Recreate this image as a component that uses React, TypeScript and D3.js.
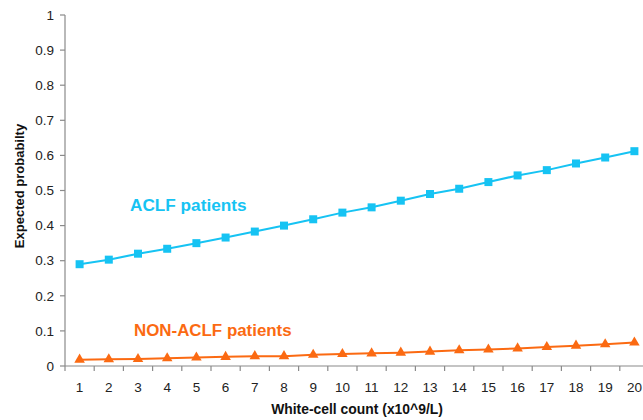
import React from "react";
import * as d3 from "d3";

const categories = ["1","2","3","4","5","6","7","8","9","10","11","12","13","14","15","16","17","18","19","20"];
const aclf = [0.290,0.303,0.320,0.334,0.350,0.366,0.383,0.400,0.418,0.437,0.452,0.471,0.490,0.505,0.524,0.543,0.558,0.577,0.594,0.612];
const nonAclf = [0.018,0.019,0.020,0.022,0.024,0.026,0.028,0.028,0.032,0.034,0.036,0.038,0.041,0.045,0.047,0.050,0.054,0.058,0.062,0.067];
const yTicks = [0,0.1,0.2,0.3,0.4,0.5,0.6,0.7,0.8,0.9,1];
const yTickLabels = ["0","0.1","0.2","0.3","0.4","0.5","0.6","0.7","0.8","0.9","1"];

const W = 643, H = 420;
const CYAN = "#16c3f3";
const ORANGE = "#fb6a12";

export default function App() {
  const x = d3.scaleBand<string>().domain(categories).range([65, 649]).padding(0);
  const y = d3.scaleLinear().domain([0, 1]).range([366, 15]);
  const cx = (c: string) => (x(c) as number) + x.bandwidth() / 2;
  const line = d3.line<number>().x((_, i) => cx(categories[i])).y((d) => y(d));
  const tri = d3.symbol().type(d3.symbolTriangle).size(48)();
  const boundaries = categories.map((c) => x(c) as number).concat([(x(categories[categories.length - 1]) as number) + x.bandwidth()]);
  const font = "Liberation Sans, Arial, sans-serif";
  return (
    <svg width={W} height={H} style={{ position: "absolute", left: 0, top: 0, display: "block", background: "#fff" }} fontFamily={font}>
      {/* y axis */}
      <line x1={65} x2={65} y1={y(1)} y2={y(0)} stroke="#8a8a8a" strokeWidth={1.2} />
      {yTicks.map((t, i) => (
        <g key={t}>
          <line x1={60} x2={65} y1={y(t)} y2={y(t)} stroke="#8a8a8a" strokeWidth={1.2} />
          <text x={54} y={y(t)} dy="0.35em" textAnchor="end" fontSize={13.5} fill="#222">{yTickLabels[i]}</text>
        </g>
      ))}
      {/* x axis */}
      <line x1={65} x2={W} y1={y(0)} y2={y(0)} stroke="#8a8a8a" strokeWidth={1.2} />
      {boundaries.map((b, i) => (
        <line key={i} x1={b} x2={b} y1={y(0)} y2={y(0) + 5} stroke="#8a8a8a" strokeWidth={1.2} />
      ))}
      {categories.map((c) => (
        <text key={c} x={cx(c)} y={387} dy="0.35em" textAnchor="middle" fontSize={13.5} fill="#222">{c}</text>
      ))}
      {/* axis titles */}
      <text x={357} y={414} textAnchor="middle" fontSize={13.9} fontWeight="bold" fill="#111">White-cell count (x10^9/L)</text>
      <text transform={`translate(24,${186}) rotate(-90)`} textAnchor="middle" fontSize={13} fontWeight="bold" fill="#111">Expected probabilty</text>
      {/* series */}
      <path d={line(aclf) || ""} fill="none" stroke={CYAN} strokeWidth={2} />
      {aclf.map((v, i) => (
        <rect key={i} x={cx(categories[i]) - 4} y={y(v) - 4} width={8} height={8} fill={CYAN} />
      ))}
      <path d={line(nonAclf) || ""} fill="none" stroke={ORANGE} strokeWidth={2} />
      {nonAclf.map((v, i) => (
        <path key={i} d={tri || ""} transform={`translate(${cx(categories[i])},${y(v)})`} fill={ORANGE} />
      ))}
      {/* labels */}
      <text x={130} y={211} fontSize={17.2} fontWeight="bold" fill={CYAN}>ACLF patients</text>
      <text x={134} y={335.5} fontSize={16.9} fontWeight="bold" fill={ORANGE}>NON-ACLF patients</text>
    </svg>
  );
}
